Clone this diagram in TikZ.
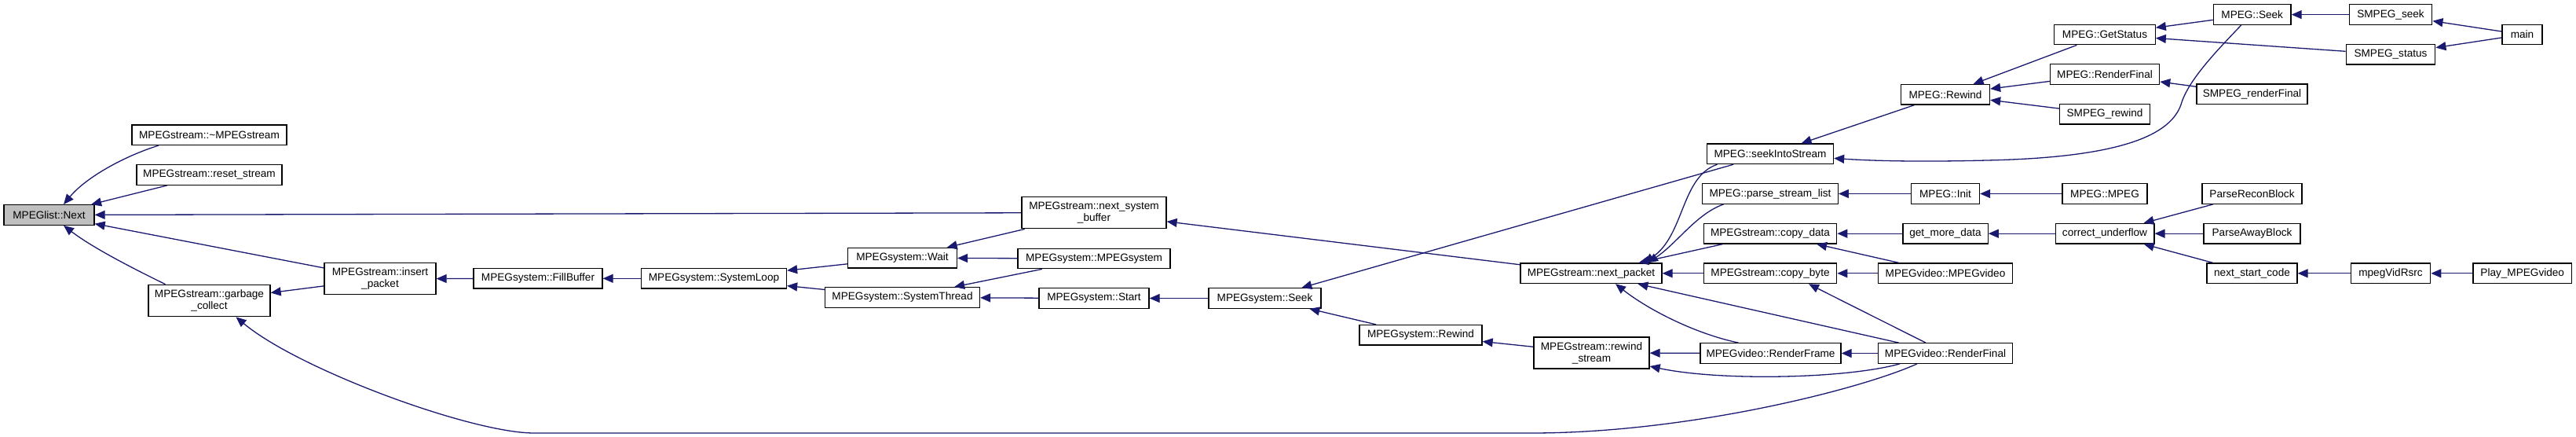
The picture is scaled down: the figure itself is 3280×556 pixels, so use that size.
\documentclass[tikz,border=0pt]{standalone}
\usepackage{fontspec}
\setmainfont{Liberation Sans}
\usetikzlibrary{arrows.meta}
\definecolor{edgeblue}{HTML}{191970}
\begin{document}
\begin{tikzpicture}[x=1pt, y=-1pt,
    box/.style={draw=black, line width=1.3pt, fill=white, inner sep=0pt,
        minimum height=25.5pt, align=center, font=\fontsize{13.6}{15}\selectfont},
    root/.style={box, fill=black!25},
    callarrow/.style={draw=edgeblue, line width=1.3pt, -{Triangle[length=13pt,width=11pt]}}]
    \useasboundingbox (0,0) rectangle (3280,556);
    \node[root, minimum width=115pt] (next) at (62.5,273.5) {MPEGlist::Next};
    \node[box, minimum width=197pt] (dtor) at (266.5,171.7) {MPEGstream::\textasciitilde MPEGstream};
    \node[box, minimum width=185pt] (reset) at (266.5,222.5) {MPEGstream::reset\_stream};
    \node[box, minimum width=155pt, minimum height=40.4pt] (garbage) at (266.5,382.5) {MPEGstream::garbage\\\_collect};
    \node[box, minimum width=142pt, minimum height=40pt] (insert) at (484,354.7) {MPEGstream::insert\\\_packet};
    \node[box, minimum width=164pt] (fill) at (685,354.3) {MPEGsystem::FillBuffer};
    \node[box, minimum width=185pt] (loop) at (909,354.3) {MPEGsystem::SystemLoop};
    \node[box, minimum width=139pt] (wait) at (1149,328.2) {MPEGsystem::Wait};
    \node[box, minimum width=197pt] (thread) at (1149,378.4) {MPEGsystem::SystemThread};
    \node[box, minimum width=184pt, minimum height=40.4pt] (nsb) at (1393,270.6) {MPEGstream::next\_system\\\_buffer};
    \node[box, minimum width=194pt] (sysctor) at (1393,329) {MPEGsystem::MPEGsystem};
    \node[box, minimum width=140pt] (start) at (1393,379.5) {MPEGsystem::Start};
    \node[box, minimum width=143pt] (sysseek) at (1610.5,379.5) {MPEGsystem::Seek};
    \node[box, minimum width=156pt] (sysrewind) at (1809,426.3) {MPEGsystem::Rewind};
    \node[box, minimum width=180pt] (npacket) at (2026,347.8) {MPEGstream::next\_packet};
    \node[box, minimum width=147pt, minimum height=40pt] (rstream) at (2026.5,449) {MPEGstream::rewind\\\_stream};
    \node[box, minimum width=161pt] (seekinto) at (2254,195.8) {MPEG::seekIntoStream};
    \node[box, minimum width=172.6pt] (parse) at (2254,246.5) {MPEG::parse\_stream\_list};
    \node[box, minimum width=169.4pt] (copydata) at (2254,297.2) {MPEGstream::copy\_data};
    \node[box, minimum width=169.4pt] (copybyte) at (2254,347.8) {MPEGstream::copy\_byte};
    \node[box, minimum width=179pt] (rframe) at (2254.5,449.5) {MPEGvideo::RenderFrame};
    \node[box, minimum width=113pt] (mrewind) at (2477,120.3) {MPEG::Rewind};
    \node[box, minimum width=87pt] (init) at (2477,246.5) {MPEG::Init};
    \node[box, minimum width=108.3pt] (getmore) at (2477,297.2) {get\_more\_data};
    \node[box, minimum width=171pt] (vctor) at (2477,347.8) {MPEGvideo::MPEGvideo};
    \node[box, minimum width=171pt] (rfinal) at (2477,449.5) {MPEGvideo::RenderFinal};
    \node[box, minimum width=128.4pt] (getstatus) at (2680,44) {MPEG::GetStatus};
    \node[box, minimum width=139.2pt] (mrfinal) at (2680,94.5) {MPEG::RenderFinal};
    \node[box, minimum width=115pt] (srewind) at (2680,145.2) {SMPEG\_rewind};
    \node[box, minimum width=108pt] (mctor) at (2680,246.5) {MPEG::MPEG};
    \node[box, minimum width=125.7pt] (cunder) at (2680,297.2) {correct\_underflow};
    \node[box, minimum width=98.7pt] (mseek) at (2867.7,18.6) {MPEG::Seek};
    \node[box, minimum width=141pt] (srfinal) at (2867.5,119.9) {SMPEG\_renderFinal};
    \node[box, minimum width=127pt] (precon) at (2867.5,246.5) {ParseReconBlock};
    \node[box, minimum width=123pt] (paway) at (2867.5,297.2) {ParseAwayBlock};
    \node[box, minimum width=115pt] (nscode) at (2867.5,347.8) {next\_start\_code};
    \node[box, minimum width=105.6pt] (sseek) at (3044,18.6) {SMPEG\_seek};
    \node[box, minimum width=113.5pt] (sstatus) at (3044,69.3) {SMPEG\_status};
    \node[box, minimum width=101.4pt] (vidrsrc) at (3044,347.8) {mpegVidRsrc};
    \node[box, minimum width=51pt] (main) at (3211.5,44) {main};
    \node[box, minimum width=125.4pt] (play) at (3211.7,347.8) {Play\_MPEGvideo};
    \foreach \a/\b in {reset/next, nsb/next, insert/next, insert/garbage, fill/insert,
        loop/fill, wait/loop, thread/loop, nsb/wait, sysctor/wait, sysctor/thread,
        start/thread, sysseek/start, seekinto/sysseek, sysrewind/sysseek,
        rstream/sysrewind, npacket/nsb, copydata/npacket, copybyte/npacket,
        rfinal/npacket, rframe/rstream, rfinal/rframe, vctor/copybyte, vctor/copydata,
        getmore/copydata, cunder/getmore, init/parse, mctor/init, mrewind/seekinto,
        getstatus/mrewind, mrfinal/mrewind, srewind/mrewind, mseek/getstatus,
        sstatus/getstatus, srfinal/mrfinal, sseek/mseek, main/sseek, main/sstatus,
        precon/cunder, paway/cunder, nscode/cunder, vidrsrc/nscode, play/vidrsrc}
        \draw[callarrow] (\a) -- (\b);
    \draw[callarrow] ([xshift=-64.5pt]dtor.south) .. controls (160,198) and (110,225) .. ([xshift=18.5pt]next.north);
    \draw[callarrow] ([xshift=-56pt]garbage.north) .. controls (160,337) and (115,313) .. ([xshift=18.5pt]next.south);
    \draw[callarrow] ([xshift=-67.5pt]seekinto.south) .. controls (2140,225) and (2145,300) .. ([xshift=67pt]npacket.north);
    \draw[callarrow] ([xshift=-59.4pt]parse.south) .. controls (2160,272) and (2135,310) .. ([xshift=72pt]npacket.north);
    \draw[callarrow] ([xshift=-41pt]rframe.north) .. controls (2160,425) and (2100,395) .. ([xshift=31pt]npacket.south);
    \draw[callarrow] ([xshift=-58pt]rfinal.south) .. controls (2350,482) and (2190,485) .. ([yshift=-17pt]rstream.east);
    \draw[callarrow] ([xshift=-25pt]rfinal.north) .. controls (2410,415) and (2340,380) .. ([xshift=49pt]copybyte.south);
    \draw[callarrow] ([xshift=-14pt]mseek.south) .. controls (2825,62) and (2788,100) .. (2778,130)
        .. controls (2768,165) and (2720,200) .. (2530,204)
        .. controls (2450,206) and (2390,205) .. ([yshift=-5.6pt]seekinto.east);
    \draw[callarrow] ([xshift=-36pt]rfinal.south) .. controls (2370,495) and (2150,551) .. (1950,551)
        -- (680,551) .. controls (600,551) and (380,470) .. ([xshift=34pt]garbage.south);
\end{tikzpicture}
\end{document}
